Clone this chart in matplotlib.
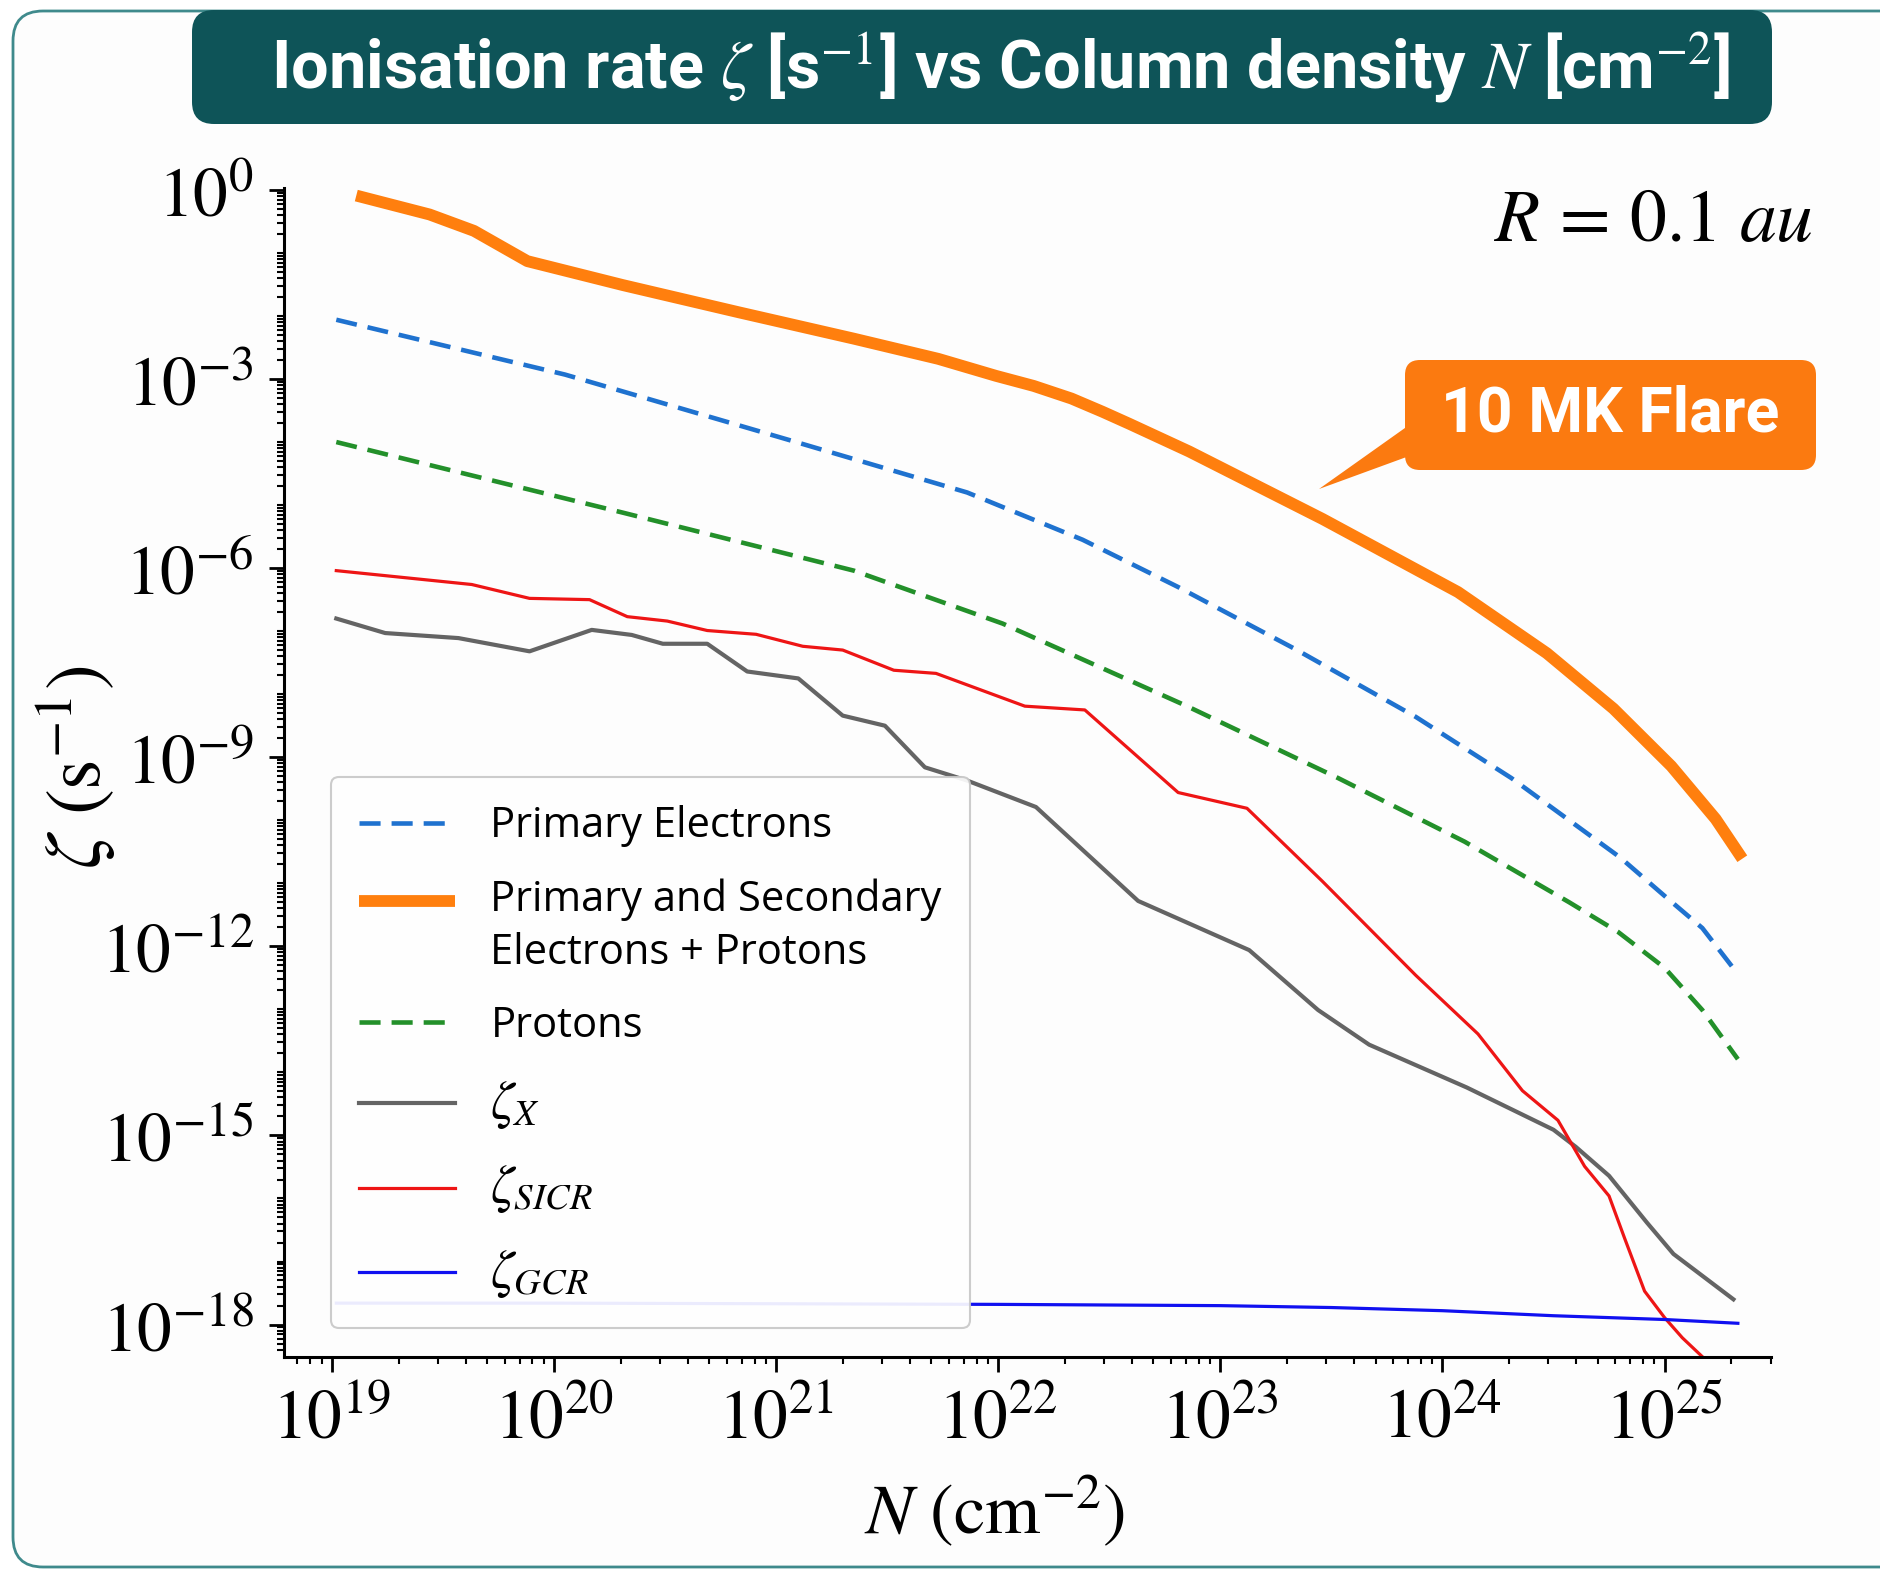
import numpy as np
import matplotlib
matplotlib.use("Agg")
import matplotlib.pyplot as plt
from matplotlib.patches import FancyBboxPatch, Polygon
from matplotlib.ticker import LogLocator, FuncFormatter, NullFormatter
from matplotlib.legend_handler import HandlerLine2D

plt.rcParams["mathtext.fontset"] = "stix"
plt.rcParams["font.family"] = ["Open Sans", "DejaVu Sans"]

# ---- data: log10 of column density N [cm^-2] and ionisation rate zeta [s^-1] ----
logN_total = [19.11, 19.44, 19.64, 19.88, 20.31, 20.83, 21.35, 21.73, 21.99, 22.16,
              22.33, 22.47, 22.59, 22.86, 23.46, 24.07, 24.47, 24.77, 25.03, 25.23,
              25.35]
logZ_total = [-0.09, -0.39, -0.65, -1.13, -1.51, -1.94, -2.36, -2.68, -2.95, -3.11,
              -3.31, -3.52, -3.71, -4.15, -5.22, -6.38, -7.35, -8.23, -9.14, -9.98,
              -10.61]

logN_elec = [19.02, 20.05, 21.09, 21.86, 22.38, 22.81, 23.34, 23.88, 24.31, 24.80,
             25.00, 25.17, 25.33]
logZ_elec = [-2.06, -2.93, -4.00, -4.80, -5.55, -6.30, -7.29, -8.36, -9.33, -10.59,
             -11.20, -11.71, -12.44]

logN_prot = [19.02, 20.31, 21.35, 22.02, 22.85, 23.53, 24.10, 24.57, 24.79, 25.00,
             25.17, 25.33]
logZ_prot = [-4.00, -5.12, -6.04, -6.88, -8.19, -9.33, -10.34, -11.30, -11.77, -12.34,
             -13.01, -13.79]

logN_x = [19.02, 19.24, 19.57, 19.89, 20.17, 20.35, 20.49, 20.69, 20.87, 21.10,
          21.30, 21.49, 21.67, 21.86, 22.17, 22.63, 23.13, 23.44, 23.67, 24.11,
          24.50, 24.60, 24.75, 24.92, 25.04, 25.31]
logZ_x = [-6.80, -7.03, -7.11, -7.32, -6.98, -7.06, -7.20, -7.20, -7.64, -7.75,
          -8.34, -8.50, -9.16, -9.37, -9.79, -11.28, -12.06, -13.01, -13.56, -14.24,
          -14.91, -15.18, -15.64, -16.38, -16.88, -17.60]

logN_sicr = [19.02, 19.63, 19.89, 20.16, 20.33, 20.51, 20.69, 20.91, 21.12, 21.30,
             21.53, 21.72, 22.12, 22.39, 22.81, 23.12, 23.46, 23.88, 24.16, 24.36,
             24.52, 24.64, 24.75, 24.82, 24.91, 25.00, 25.08, 25.17, 25.28]
logZ_sicr = [-6.04, -6.26, -6.48, -6.50, -6.77, -6.84, -6.99, -7.05, -7.24, -7.30,
             -7.62, -7.67, -8.19, -8.25, -9.56, -9.81, -10.97, -12.46, -13.39, -14.29,
             -14.76, -15.49, -15.96, -16.63, -17.47, -17.89, -18.21, -18.51, -18.86]

logN_gcr = [19.02, 20.0, 21.0, 22.0, 23.0, 23.5, 24.0, 24.5, 25.0, 25.33]
logZ_gcr = [-17.66, -17.66, -17.67, -17.68, -17.70, -17.73, -17.78, -17.86, -17.92, -17.98]

labels = ["Primary Electrons",
          "Primary and Secondary\nElectrons + Protons",
          "Protons",
          r"$\zeta_X$",
          r"$\zeta_{SICR}$",
          r"$\zeta_{GCR}$"]


class RaisedLineHandler(HandlerLine2D):
    """Line handle lifted so it sits beside the first line of a two-line label."""

    def __init__(self, dy, **kw):
        super().__init__(**kw)
        self.dy = dy

    def create_artists(self, legend, orig_handle, xdescent, ydescent, width,
                       height, fontsize, trans):
        arts = super().create_artists(legend, orig_handle, xdescent, ydescent,
                                      width, height, fontsize, trans)
        for a in arts:
            a.set_ydata(np.asarray(a.get_ydata(), dtype=float) + self.dy)
        return arts


W, H = 18.8, 15.72
fig = plt.figure(figsize=(W, H), dpi=100)
fig.patch.set_facecolor("white")

# card background and title banner (inches)
card = FancyBboxPatch((0.13, 0.05), W + 1.0, H - 0.16,
                      boxstyle="round,pad=0,rounding_size=0.3",
                      transform=fig.dpi_scale_trans, facecolor="#fdfdfd",
                      edgecolor="#3f8a8c", linewidth=2.0, zorder=-5)
fig.patches.append(card)
banner = FancyBboxPatch((1.92, 14.48), 15.80, 1.14,
                        boxstyle="round,pad=0,rounding_size=0.22",
                        transform=fig.dpi_scale_trans, facecolor="#0e5458",
                        edgecolor="none", zorder=-4)
fig.patches.append(banner)
fig.text(10.0 / W, 15.04 / H,
         r"Ionisation rate $\zeta$ [s$^{-1}$] vs Column density $N$ [cm$^{-2}$]",
         color="white", fontsize=48, fontweight="bold", ha="center", va="center",
         family=["Roboto", "DejaVu Sans"], zorder=2)

ax = fig.add_axes([0.151, 0.1368, 0.942 - 0.151, 0.8804 - 0.1368])
ax.set_facecolor("none")
ax.set_zorder(1)


def p(v):
    return np.power(10.0, v)


dash = (0, (4.6, 2.4))
l_elec, = ax.plot(p(logN_elec), p(logZ_elec), color="#1f72cf", lw=3.3, ls=dash,
                  label=labels[0])
l_tot, = ax.plot(p(logN_total), p(logZ_total), color="#ff7f0e", lw=8.5,
                 label=labels[1], solid_capstyle="butt", solid_joinstyle="round")
l_prot, = ax.plot(p(logN_prot), p(logZ_prot), color="#23902a", lw=3.3, ls=dash,
                  label=labels[2])
l_x, = ax.plot(p(logN_x), p(logZ_x), color="#646464", lw=3.0, label=labels[3])
l_sicr, = ax.plot(p(logN_sicr), p(logZ_sicr), color="#ee1515", lw=2.3,
                  label=labels[4])
l_gcr, = ax.plot(p(logN_gcr), p(logZ_gcr), color="#1010f0", lw=2.3,
                 label=labels[5])

ax.set_xscale("log")
ax.set_yscale("log")
ax.set_xlim(p(18.784), p(25.479))
ax.set_ylim(p(-18.514), p(0.03))

for s in ("top", "right"):
    ax.spines[s].set_visible(False)
for s in ("left", "bottom"):
    ax.spines[s].set_linewidth(2.2)

ax.xaxis.set_major_locator(LogLocator(base=10, subs=[1.0], numticks=20))
ax.yaxis.set_major_locator(LogLocator(base=1000, subs=[1.0], numticks=20))
ax.xaxis.set_minor_locator(LogLocator(base=10, subs=np.arange(2, 10), numticks=40))
ax.yaxis.set_minor_locator(LogLocator(base=10, subs=np.arange(1, 10), numticks=60))
fmt = FuncFormatter(lambda v, pos: r"$10^{%d}$" % int(round(np.log10(v))))
ax.xaxis.set_major_formatter(fmt)
ax.yaxis.set_major_formatter(fmt)
ax.xaxis.set_minor_formatter(NullFormatter())
ax.yaxis.set_minor_formatter(NullFormatter())
ax.tick_params(which="major", direction="out", length=10.5, width=2.0,
               labelsize=50)
ax.tick_params(axis="y", which="major", pad=11)
ax.tick_params(axis="x", which="major", pad=10)
ax.tick_params(which="minor", direction="out", length=5, width=1.5)

fig.text(995 / 1880, 1 - 1513 / 1572, r"$N\ (\mathrm{cm}^{-2})$", fontsize=51,
         ha="center", va="center")
fig.text(78 / 1880, 1 - 767 / 1572, r"$\zeta\ (\mathrm{s}^{-1})$", fontsize=56,
         ha="center", va="center", rotation=90)
fig.text(1813 / 1880, 1 - 222 / 1572, r"$R\, =\, 0.1\ au$", fontsize=53,
         ha="right", va="center")

leg = ax.legend(loc="lower left", bbox_to_anchor=(0.0316, 0.0248),
                borderaxespad=0, fontsize=30, handlelength=2.3,
                handletextpad=0.85, labelspacing=0.74, borderpad=0.68,
                frameon=True, fancybox=True, framealpha=0.92,
                edgecolor="#c8c8c8",
                handler_map={l_tot: RaisedLineHandler(dy=19)})
leg.get_frame().set_linewidth(1.5)
leg.get_texts()[1].set_linespacing(1.35)
for t in leg.get_texts()[3:]:
    t.set_fontsize(38)

# callout for the total curve
cb = FancyBboxPatch((14.05, 11.02), 4.11, 1.10,
                    boxstyle="round,pad=0,rounding_size=0.15",
                    transform=fig.dpi_scale_trans, facecolor="#fb7a10",
                    edgecolor="none", zorder=5)
fig.patches.append(cb)
tail = Polygon([(14.12, 11.49), (14.12, 11.17), (13.19, 10.83)], closed=True,
               transform=fig.dpi_scale_trans, facecolor="#fb7a10",
               edgecolor="none", zorder=5)
fig.patches.append(tail)
fig.text(16.10 / W, 11.57 / H, "10 MK Flare", color="white", fontsize=45,
         fontweight="bold", ha="center", va="center", zorder=6,
         family=["Roboto", "DejaVu Sans"])

fig.savefig("out.png", dpi=100)
